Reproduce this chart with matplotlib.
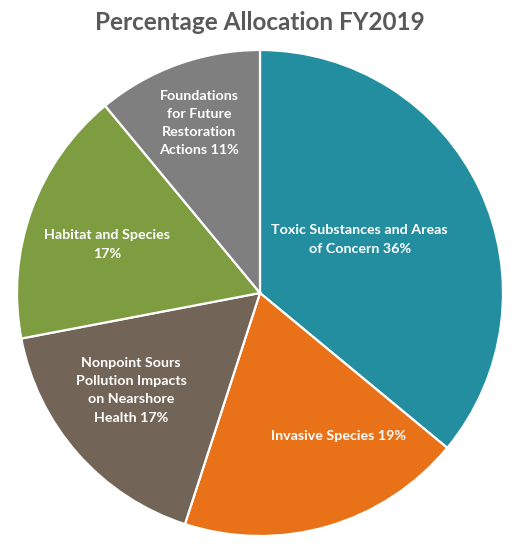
import matplotlib
matplotlib.use('Agg')
import matplotlib.pyplot as plt
import numpy as np

plt.rcParams['font.family'] = ['Lato', 'DejaVu Sans']

# data
categories = ['Toxic Substances and Areas\nof Concern',
              'Invasive Species',
              'Nonpoint Sours\nPollution Impacts\non Nearshore\nHealth',
              'Habitat and Species\n',
              'Foundations\nfor Future\nRestoration\nActions']
shares = [36, 19, 17, 17, 11]
colors = ['#238E9F', '#E97117', '#726456', '#7E9C40', '#7F7F7F']

# label centres in pie-radius units (best-fit placement as in the original)
label_xy = [(0.41, 0.22), (0.325, -0.59), (-0.53, -0.40), (-0.63, 0.20), (-0.25, 0.70)]

W, H = 519, 546
fig = plt.figure(figsize=(W / 100, H / 100), dpi=100)
cx, cy, r = 260, 293, 243
ax = fig.add_axes([(cx - r) / W, (H - cy - r) / H, 2 * r / W, 2 * r / H])

wedges, _ = ax.pie(shares, colors=colors, startangle=90, counterclock=False,
                   radius=1, wedgeprops=dict(edgecolor='white', linewidth=1.6))
ax.set_xlim(-1, 1)
ax.set_ylim(-1, 1)
ax.set_aspect('equal')
ax.axis('off')

for cat, val, (x, y) in zip(categories, shares, label_xy):
    txt = cat.rstrip('\n')
    if cat.endswith('\n'):
        txt = txt + '\n%d%%' % val
    else:
        txt = txt + ' %d%%' % val
    ax.text(x, y, txt, ha='center', va='center', color='white',
            fontsize=10.3, fontweight='bold', linespacing=1.62)

fig.text(cx / W, 1 - 23 / H, 'Percentage Allocation FY2019', ha='center', va='center',
         fontsize=17.5, fontweight='bold', color='#595959')

fig.savefig('out.png', dpi=100, facecolor='white')
